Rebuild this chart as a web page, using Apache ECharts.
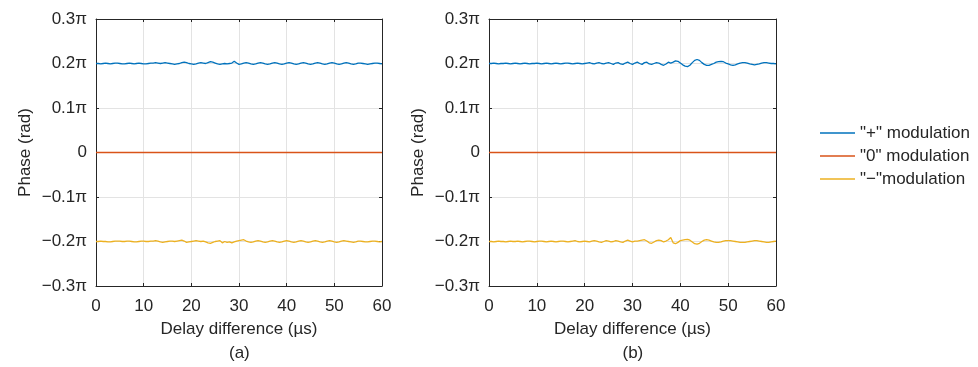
<!DOCTYPE html>
<html>
<head>
<meta charset="utf-8">
<script src="https://cdn.jsdelivr.net/npm/echarts@6/dist/echarts.min.js"></script>
<style>
html,body{margin:0;padding:0;background:#fff;}
#chart{width:978px;height:367px;}
</style>
</head>
<body>
<div id="chart"></div>
<script>
// Delay difference samples (µs)
const delay = [0,0.5,1,1.5,2,2.5,3,3.5,4,4.5,5,5.5,6,6.5,7,7.5,8,8.5,9,9.5,10,
10.5,11,11.5,12,12.5,13,13.5,14,14.5,15,15.5,16,16.5,17,17.5,18,18.5,19,19.5,20,
20.5,21,21.5,22,22.5,23,23.5,24,24.5,25,25.5,26,26.5,27,27.5,28,28.5,29,29.5,30,
30.5,31,31.5,32,32.5,33,33.5,34,34.5,35,35.5,36,36.5,37,37.5,38,38.5,39,39.5,40,
40.5,41,41.5,42,42.5,43,43.5,44,44.5,45,45.5,46,46.5,47,47.5,48,48.5,49,49.5,50,
50.5,51,51.5,52,52.5,53,53.5,54,54.5,55,55.5,56,56.5,57,57.5,58,58.5,59,59.5,60];

// Phase values in units of π
// (a) "+" modulation
const plusA = [0.200,0.200,0.199,0.200,0.201,0.200,0.199,0.200,0.201,0.201,0.200,0.199,0.199,0.200,0.201,0.200,0.199,0.200,0.201,0.200,0.199,
0.199,0.200,0.201,0.201,0.202,0.201,0.200,0.201,0.202,0.201,0.200,0.199,0.198,0.199,0.200,0.202,0.203,0.202,0.200,0.199,
0.198,0.199,0.201,0.202,0.201,0.200,0.202,0.204,0.203,0.201,0.199,0.198,0.199,0.200,0.199,0.200,0.201,0.205,0.201,0.198,
0.199,0.201,0.202,0.201,0.199,0.198,0.199,0.201,0.202,0.201,0.199,0.198,0.199,0.201,0.202,0.201,0.199,0.198,0.199,0.201,
0.202,0.201,0.199,0.198,0.199,0.201,0.202,0.201,0.199,0.198,0.199,0.201,0.202,0.201,0.199,0.198,0.199,0.201,0.202,0.201,
0.199,0.198,0.199,0.201,0.202,0.201,0.199,0.198,0.199,0.201,0.201,0.200,0.199,0.198,0.199,0.200,0.201,0.201,0.200,0.199];
// (a) "−" modulation
const minusA = [-0.200,-0.200,-0.199,-0.200,-0.200,-0.201,-0.201,-0.200,-0.199,-0.199,-0.199,-0.200,-0.200,-0.199,-0.199,-0.200,-0.201,-0.201,-0.200,-0.199,-0.199,
-0.200,-0.200,-0.199,-0.199,-0.198,-0.199,-0.201,-0.202,-0.201,-0.200,-0.199,-0.199,-0.200,-0.199,-0.198,-0.197,-0.199,-0.202,-0.201,-0.200,
-0.199,-0.198,-0.199,-0.200,-0.199,-0.201,-0.203,-0.204,-0.202,-0.200,-0.199,-0.198,-0.203,-0.200,-0.202,-0.201,-0.203,-0.201,-0.199,-0.198,
-0.197,-0.196,-0.199,-0.201,-0.202,-0.201,-0.199,-0.198,-0.199,-0.201,-0.202,-0.201,-0.199,-0.198,-0.199,-0.201,-0.202,-0.201,-0.199,-0.198,
-0.199,-0.201,-0.202,-0.201,-0.199,-0.198,-0.199,-0.201,-0.202,-0.201,-0.199,-0.198,-0.199,-0.201,-0.202,-0.201,-0.199,-0.198,-0.199,-0.201,
-0.202,-0.201,-0.199,-0.198,-0.199,-0.200,-0.201,-0.202,-0.201,-0.199,-0.199,-0.200,-0.201,-0.201,-0.200,-0.199,-0.199,-0.200,-0.201,-0.200];
// (b) "+" modulation
const plusB = [0.200,0.200,0.201,0.200,0.199,0.200,0.200,0.201,0.200,0.199,0.200,0.201,0.200,0.199,0.200,0.201,0.200,0.199,0.200,0.200,0.201,
0.200,0.199,0.200,0.201,0.200,0.199,0.200,0.201,0.200,0.199,0.200,0.201,0.201,0.200,0.199,0.200,0.201,0.200,0.199,0.200,
0.201,0.202,0.200,0.199,0.201,0.202,0.200,0.199,0.201,0.202,0.200,0.198,0.201,0.202,0.199,0.198,0.201,0.203,0.200,0.198,
0.201,0.203,0.200,0.198,0.202,0.203,0.199,0.198,0.200,0.202,0.201,0.198,0.196,0.199,0.203,0.201,0.203,0.206,0.205,0.201,
0.197,0.194,0.193,0.196,0.202,0.207,0.209,0.207,0.202,0.198,0.196,0.196,0.198,0.200,0.203,0.204,0.205,0.204,0.201,0.199,
0.197,0.196,0.197,0.199,0.201,0.202,0.202,0.201,0.199,0.198,0.197,0.198,0.199,0.201,0.202,0.202,0.201,0.200,0.200,0.199];
// (b) "−" modulation
const minusB = [-0.200,-0.200,-0.201,-0.200,-0.199,-0.200,-0.200,-0.201,-0.200,-0.199,-0.200,-0.200,-0.199,-0.200,-0.201,-0.200,-0.199,-0.199,-0.200,-0.201,-0.200,
-0.199,-0.199,-0.200,-0.201,-0.200,-0.199,-0.200,-0.201,-0.200,-0.199,-0.199,-0.200,-0.201,-0.200,-0.199,-0.198,-0.200,-0.201,-0.200,-0.199,
-0.200,-0.201,-0.199,-0.198,-0.199,-0.201,-0.202,-0.200,-0.198,-0.199,-0.201,-0.200,-0.198,-0.199,-0.201,-0.202,-0.199,-0.197,-0.199,-0.201,
-0.199,-0.199,-0.198,-0.197,-0.196,-0.199,-0.203,-0.204,-0.201,-0.198,-0.197,-0.198,-0.201,-0.199,-0.196,-0.191,-0.203,-0.205,-0.202,-0.198,
-0.197,-0.196,-0.195,-0.197,-0.201,-0.205,-0.206,-0.204,-0.200,-0.197,-0.196,-0.197,-0.199,-0.201,-0.202,-0.202,-0.201,-0.199,-0.198,-0.198,
-0.198,-0.199,-0.200,-0.201,-0.202,-0.202,-0.202,-0.201,-0.200,-0.199,-0.198,-0.198,-0.199,-0.200,-0.201,-0.202,-0.202,-0.201,-0.200,-0.199];
// "0" modulation (flat)
const zeroDelay = [0, 60];
const zeroVals = [0, 0];

const xTicks = [0, 10, 20, 30, 40, 50, 60];
const yTicksPi = [-0.3, -0.2, -0.1, 0, 0.1, 0.2, 0.3];
const names = ['"+" modulation', '"0" modulation', '"\u2212"modulation'];
const panelLabels = ['(a)', '(b)'];

const FONT = "'Liberation Sans', Arial, sans-serif";
const AX = '#262626';
const GRIDC = '#e3e3e3';
const COLORS = ['#0072BD', '#D95319', '#EDB120'];

function piLabel(v) {
  const k = Math.round(v * 10);
  if (k === 0) return '0';
  return (k < 0 ? '\u2212' : '') + '0.' + Math.abs(k) + '\u03c0';
}
function pairs(xs, ys) { return xs.map((x, i) => [x, ys[i]]); }

const grids = [
  { left: 96, top: 19, width: 286, height: 267 },
  { left: 489, top: 19, width: 287, height: 267 }
];

const xAxes = [], yAxes = [];
grids.forEach((g, gi) => {
  const base = {
    gridIndex: gi, type: 'value', min: xTicks[0], max: xTicks[xTicks.length - 1], interval: 10,
    axisLine: { show: true, onZero: false, lineStyle: { color: AX, width: 1 } },
    axisTick: { show: true, inside: true, length: 3, lineStyle: { color: AX } }
  };
  xAxes.push(Object.assign({}, base, {
    position: 'bottom',
    axisLabel: { fontSize: 17, color: AX, fontFamily: FONT, margin: 12 },
    splitLine: { show: true, lineStyle: { color: GRIDC, width: 1 } },
    name: 'Delay difference (\u00b5s)', nameLocation: 'middle', nameGap: 35,
    nameTextStyle: { fontSize: 17, color: AX, fontFamily: FONT }
  }));
  xAxes.push(Object.assign({}, base, {
    position: 'top', axisLabel: { show: false }, splitLine: { show: false }
  }));
  const ybase = {
    gridIndex: gi, type: 'value', min: yTicksPi[0], max: yTicksPi[yTicksPi.length - 1], interval: 0.1,
    axisLine: { show: true, onZero: false, lineStyle: { color: AX, width: 1 } },
    axisTick: { show: true, inside: true, length: 3, lineStyle: { color: AX } }
  };
  yAxes.push(Object.assign({}, ybase, {
    position: 'left',
    axisLabel: { fontSize: 17, color: AX, fontFamily: FONT, margin: 9, formatter: piLabel },
    splitLine: { show: true, lineStyle: { color: GRIDC, width: 1 } },
    name: 'Phase (rad)', nameLocation: 'middle', nameGap: 62, nameRotate: 90,
    nameTextStyle: { fontSize: 17, color: AX, fontFamily: FONT }
  }));
  yAxes.push(Object.assign({}, ybase, {
    position: 'right', axisLabel: { show: false }, splitLine: { show: false }
  }));
});

const panels = [[plusA, minusA], [plusB, minusB]];
const series = [];
panels.forEach((p, gi) => {
  const common = { type: 'line', xAxisIndex: gi * 2, yAxisIndex: gi * 2, symbol: 'none', showSymbol: false, animation: false, silent: true };
  series.push(Object.assign({}, common, { name: names[0], data: pairs(delay, p[0]), lineStyle: { color: COLORS[0], width: 1.3 }, itemStyle: { color: COLORS[0] }, z: 3 }));
  series.push(Object.assign({}, common, { name: names[1], data: pairs(zeroDelay, zeroVals), lineStyle: { color: COLORS[1], width: 1.3 }, itemStyle: { color: COLORS[1] }, z: 3 }));
  series.push(Object.assign({}, common, { name: names[2], data: pairs(delay, p[1]), lineStyle: { color: COLORS[2], width: 1.3 }, itemStyle: { color: COLORS[2] }, z: 3 }));
});

const chart = echarts.init(document.getElementById('chart'), null, { renderer: 'canvas' });
chart.setOption({
  backgroundColor: '#fff',
  animation: false,
  grid: grids,
  xAxis: xAxes,
  yAxis: yAxes,
  series: series,
  legend: {
    data: names.map(n => ({ name: n, icon: 'rect' })),
    orient: 'vertical', left: 815, top: 118,
    itemWidth: 35, itemHeight: 1.5, itemGap: 3,
    textStyle: { fontSize: 17, color: AX, fontFamily: FONT, lineHeight: 20 },
    selectedMode: false
  },
  graphic: panelLabels.map((t, i) => ({
    type: 'text',
    left: grids[i].left + grids[i].width / 2 - 10, top: 345,
    style: { text: t, fontSize: 17, fill: AX, font: "17px 'Liberation Sans', Arial, sans-serif" }
  }))
});
</script>
</body>
</html>
